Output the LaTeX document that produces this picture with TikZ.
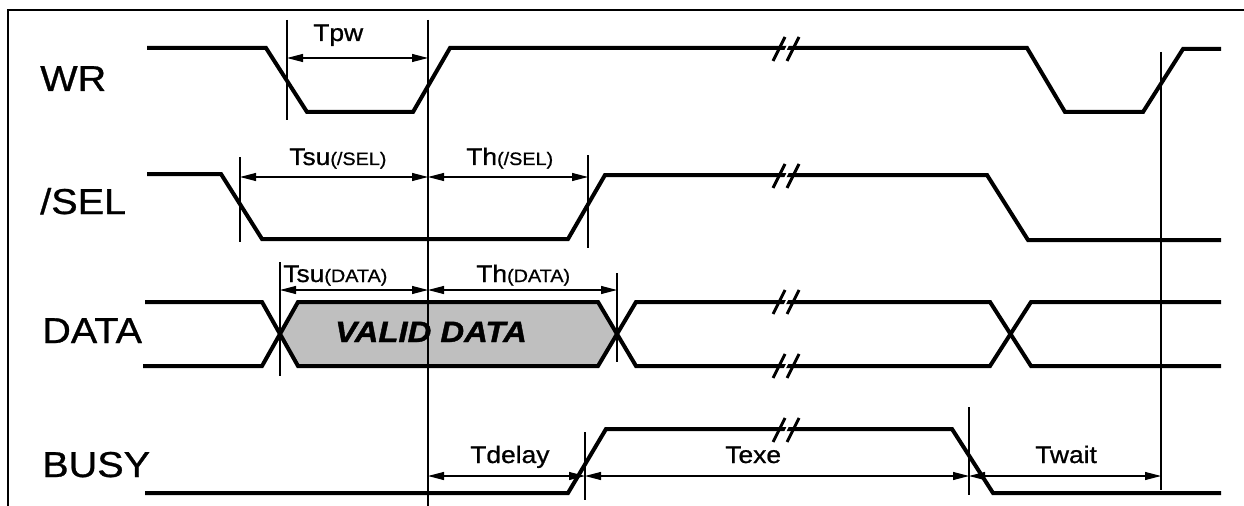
\documentclass[tikz,border=0pt]{standalone}
\usepackage{fontspec}
\setmainfont{Liberation Sans}
\usetikzlibrary{arrows.meta}
\begin{document}
\begin{tikzpicture}[x=0.75pt,y=-0.75pt,
  sig/.style={line width=3pt, line join=miter},
  vline/.style={line width=0.9pt},
  dim/.style={line width=0.8pt, {Triangle[length=12pt,width=6pt]}-{Triangle[length=12pt,width=6pt]}},
  big/.style={font=\fontsize{27}{30}\selectfont\addfontfeature{FakeBold=0.8}, inner sep=0pt, anchor=base west},
  lbl/.style={font=\fontsize{18}{21}\selectfont\addfontfeature{FakeBold=0.8}, inner sep=0pt, anchor=base west},
  brkline/.style={line width=2.2pt},
]
\newcommand\sgn[1]{\scalebox{1.1}[1]{#1}}
\newcommand\sbs[2]{\scalebox{1.1}[1]{#1{\fontsize{13.5}{15}\selectfont #2}}}
\newcommand\brkmark[2]{%
  \fill[white] (#1-7,#2+12) -- (#1+5,#2-12) -- (#1+7,#2-12) -- (#1-5,#2+12) -- cycle;
  \draw[brkline] (#1-13,#2+12) -- (#1-1,#2-12);
  \draw[brkline] (#1+1,#2+12) -- (#1+13,#2-12);}
\useasboundingbox (0,0) rectangle (1244,506);
% frame
\draw[line width=1.5pt] (1244,10) -- (8,10) -- (8,506);

% signal names
\node[big] (nWR)   at (40,91)  {\sgn{WR}};
\node[big] (nSEL)  at (40,214) {\sgn{/SEL}};
\node[big] (nDATA) at (42,343) {\sgn{DATA}};
\node[big] (nBUSY) at (42,477) {\sgn{BUSY}};

% valid data fill
\fill[black!25] (280,334) -- (298,302) -- (598,302) -- (617,334) -- (598,366) -- (298,366) -- cycle;

% waveforms
\draw[sig] (147,48) -- (266,48) -- (307,112) -- (413,112) -- (450,48) -- (1027,48) -- (1065,112) -- (1143,112) -- (1183,49) -- (1221,49);
\draw[sig] (147,174) -- (221,174) -- (262,239) -- (568,239) -- (605,175) -- (987,175) -- (1028,240) -- (1221,240);
\draw[sig] (145,302) -- (262,302) -- (298,366) -- (598,366) -- (636,302) -- (990,302) -- (1031,366) -- (1221,366);
\draw[sig] (143,366) -- (262,366) -- (298,302) -- (598,302) -- (636,366) -- (990,366) -- (1031,302) -- (1221,302);
\draw[sig] (145,493) -- (568,493) -- (606,429) -- (952,429) -- (993,493) -- (1221,493);

% break marks
\brkmark{786}{49}
\brkmark{786}{176}
\brkmark{786}{302}
\brkmark{786}{366}
\brkmark{786}{430}

% vertical reference lines
\coordinate (a1) at (287,20);  \coordinate (a2) at (287,120);
\coordinate (m1) at (428,20);  \coordinate (m2) at (428,506);
\coordinate (r1) at (1161,52); \coordinate (r2) at (1161,490);
\coordinate (b1) at (240,157); \coordinate (b2) at (240,242);
\coordinate (c1) at (588,155); \coordinate (c2) at (588,248);
\coordinate (d1) at (280,262); \coordinate (d2) at (280,376);
\coordinate (e1) at (617,273); \coordinate (e2) at (617,362);
\coordinate (f1) at (585,432); \coordinate (f2) at (585,500);
\coordinate (g1) at (969,407); \coordinate (g2) at (969,495);
\foreach \p in {a,m,r,b,c,d,e,f,g} \draw[vline] (\p1) -- (\p2);

% dimension arrows
\draw[dim] (287,58) -- (428,58);
\draw[dim] (240,177) -- (428,177);
\draw[dim] (428,177) -- (588,177);
\draw[dim] (280,290) -- (428,290);
\draw[dim] (428,290) -- (617,290);
\draw[dim] (428,476) -- (585,476);
\draw[dim] (585,476) -- (969,476);
\draw[dim] (969,476) -- (1161,476);

% labels
\node[lbl] (lTpw)    at (313,41)  {\sgn{Tpw}};
\node[lbl] (lTsuSEL) at (289,165) {\sbs{Tsu}{(/SEL)}};
\node[lbl] (lThSEL)  at (466,165) {\sbs{Th}{(/SEL)}};
\node[lbl] (lTsuD)   at (283,282) {\sbs{Tsu}{(DATA)}};
\node[lbl] (lThD)    at (476,282) {\sbs{Th}{(DATA)}};
\node[lbl] (lTdelay) at (470,463) {\sgn{Tdelay}};
\node[lbl] (lTexe)   at (725,463) {\sgn{Texe}};
\node[lbl] (lTwait)  at (1035,463) {\sgn{Twait}};
\node[font=\fontsize{22}{26}\selectfont\bfseries\itshape\addfontfeature{FakeBold=1.2}, inner sep=0pt, anchor=base] (lvalid) at (431,342) {\scalebox{1.12}[1]{VALID DATA}};
\end{tikzpicture}
\end{document}
